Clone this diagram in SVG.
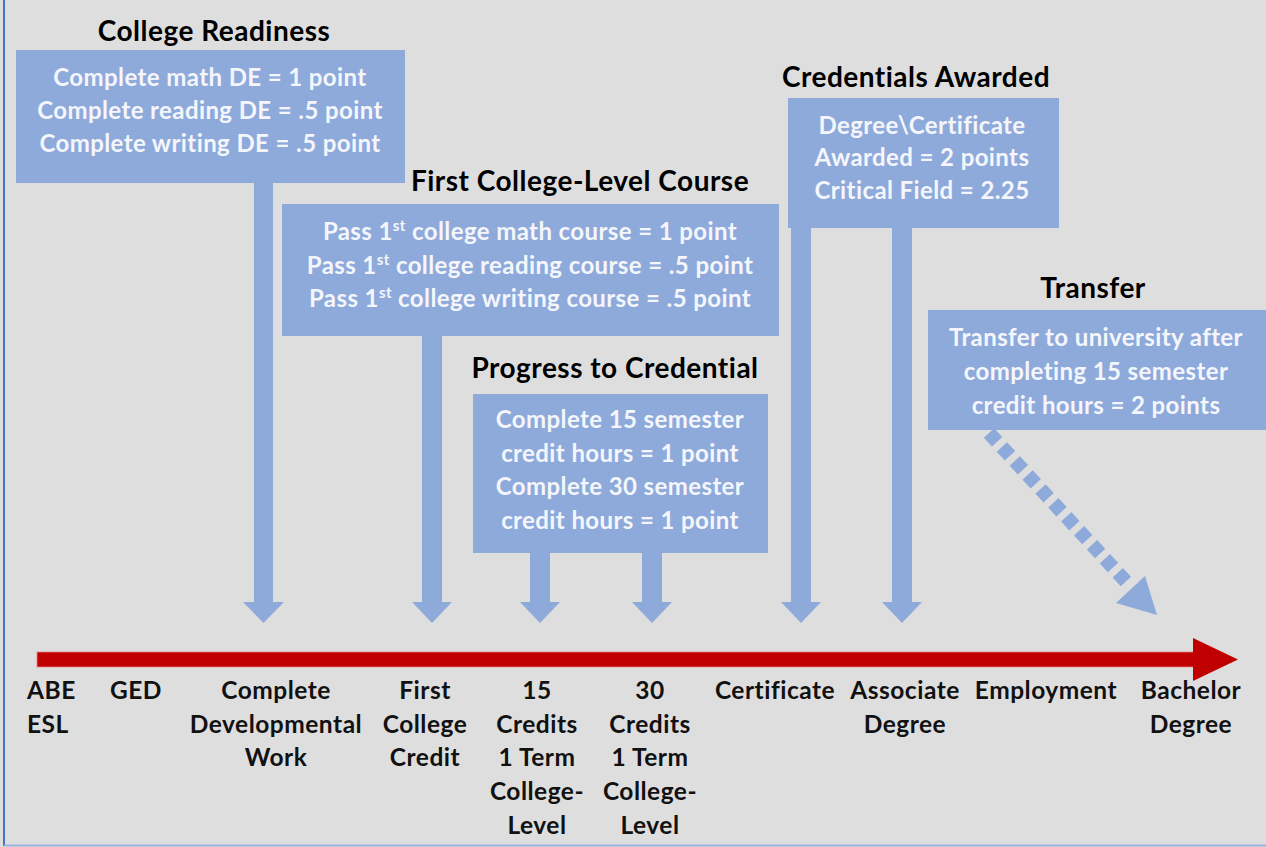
<svg xmlns="http://www.w3.org/2000/svg" width="1266" height="847" viewBox="0 0 1266 847">
<defs>
<style>
.bg{fill:#dedede}
.box{fill:#8eaadb}
.title{font-family:Lato,"Open Sans",sans-serif;font-weight:bold;font-size:28px;letter-spacing:0.5px;fill:#000;text-anchor:middle}
.bt{font-family:Lato,"Open Sans",sans-serif;font-weight:bold;font-size:24px;letter-spacing:0.4px;fill:#f4f6fb;text-anchor:middle}
.lbl{font-family:Lato,"Open Sans",sans-serif;font-weight:bold;font-size:24.5px;letter-spacing:0.5px;fill:#111;text-anchor:middle}
.arr{fill:#8eaadb}
.sup{font-size:15px}
</style>
</defs>
<rect class="bg" x="0" y="0" width="1266" height="847"/>
<line x1="4" y1="0" x2="4" y2="846" stroke="#4472c4" stroke-width="2"/>
<line x1="4" y1="845.5" x2="1266" y2="845.5" stroke="#9fb4dc" stroke-width="2"/>

<g id="connectors">
<path class="arr" d="M254,183 H273 V602 H284 L263.5,623 L243,602 H254 Z"/>
<path class="arr" d="M422,336 H442 V602 H452 L432,623 L412,602 H422 Z"/>
<path class="arr" d="M530,553 H550 V602 H560 L540,623 L520,602 H530 Z"/>
<path class="arr" d="M642,553 H662 V602 H672 L652,623 L632,602 H642 Z"/>
<path class="arr" d="M791,228 H811 V602 H821 L801,623 L781,602 H791 Z"/>
<path class="arr" d="M892,228 H912 V602 H922 L902,623 L882,602 H892 Z"/>
<line x1="989" y1="433" x2="1130" y2="586" stroke="#8eaadb" stroke-width="14" stroke-dasharray="12 7"/>
<polygon class="arr" points="1157,615 1116,603 1145,576"/>
<g id="timeline">
<rect x="37" y="652" width="1160" height="15" fill="#c00000" stroke="#f08080" stroke-width="0.8"/>
<polygon points="1193,638 1238,659.5 1193,681" fill="#c00000"/>
</g>
</g>

<g id="college-readiness">
<text class="title" x="214" y="41">College Readiness</text>
<rect class="box" x="16" y="50" width="389" height="133"/>
<text class="bt" x="210" y="86">Complete math DE = 1 point</text>
<text class="bt" x="210" y="119">Complete reading DE = .5 point</text>
<text class="bt" x="210" y="152">Complete writing DE = .5 point</text>
</g>

<g id="first-college-level-course">
<text class="title" x="580" y="191">First College-Level Course</text>
<rect class="box" x="282" y="204" width="497" height="132"/>
<text class="bt" x="530" y="240">Pass 1<tspan class="sup" dy="-9">st</tspan><tspan dy="9"> college math course = 1 point</tspan></text>
<text class="bt" x="530" y="274">Pass 1<tspan class="sup" dy="-9">st</tspan><tspan dy="9"> college reading course = .5 point</tspan></text>
<text class="bt" x="530" y="307">Pass 1<tspan class="sup" dy="-9">st</tspan><tspan dy="9"> college writing course = .5 point</tspan></text>
</g>

<g id="progress-to-credential">
<text class="title" x="615" y="378">Progress to Credential</text>
<rect class="box" x="473" y="394" width="295" height="159"/>
<text class="bt" x="620" y="428">Complete 15 semester</text>
<text class="bt" x="620" y="462">credit hours = 1 point</text>
<text class="bt" x="620" y="495">Complete 30 semester</text>
<text class="bt" x="620" y="529">credit hours = 1 point</text>
</g>

<g id="credentials-awarded">
<text class="title" x="916" y="87">Credentials Awarded</text>
<rect class="box" x="788" y="98" width="271" height="130"/>
<text class="bt" x="922" y="134">Degree\Certificate</text>
<text class="bt" x="922" y="166">Awarded = 2 points</text>
<text class="bt" x="922" y="199">Critical Field = 2.25</text>
</g>

<g id="transfer">
<text class="title" x="1093" y="298">Transfer</text>
<rect class="box" x="928" y="310" width="338" height="120"/>
<text class="bt" x="1096" y="346">Transfer to university after</text>
<text class="bt" x="1096" y="380">completing 15 semester</text>
<text class="bt" x="1096" y="414">credit hours = 2 points</text>
</g>

<g id="milestones">
<text class="lbl" x="27" y="699" style="text-anchor:start">ABE</text>
<text class="lbl" x="27" y="733" style="text-anchor:start">ESL</text>
<text class="lbl" x="136" y="699">GED</text>
<text class="lbl" x="276" y="699">Complete</text>
<text class="lbl" x="276" y="733">Developmental</text>
<text class="lbl" x="276" y="766">Work</text>
<text class="lbl" x="425" y="699">First</text>
<text class="lbl" x="425" y="733">College</text>
<text class="lbl" x="425" y="766">Credit</text>
<text class="lbl" x="537" y="699">15</text>
<text class="lbl" x="537" y="733">Credits</text>
<text class="lbl" x="537" y="766">1 Term</text>
<text class="lbl" x="537" y="800">College-</text>
<text class="lbl" x="537" y="834">Level</text>
<text class="lbl" x="650" y="699">30</text>
<text class="lbl" x="650" y="733">Credits</text>
<text class="lbl" x="650" y="766">1 Term</text>
<text class="lbl" x="650" y="800">College-</text>
<text class="lbl" x="650" y="834">Level</text>
<text class="lbl" x="775" y="699">Certificate</text>
<text class="lbl" x="905" y="699">Associate</text>
<text class="lbl" x="905" y="733">Degree</text>
<text class="lbl" x="1046" y="699">Employment</text>
<text class="lbl" x="1191" y="699">Bachelor</text>
<text class="lbl" x="1191" y="733">Degree</text>
</g>
</svg>
